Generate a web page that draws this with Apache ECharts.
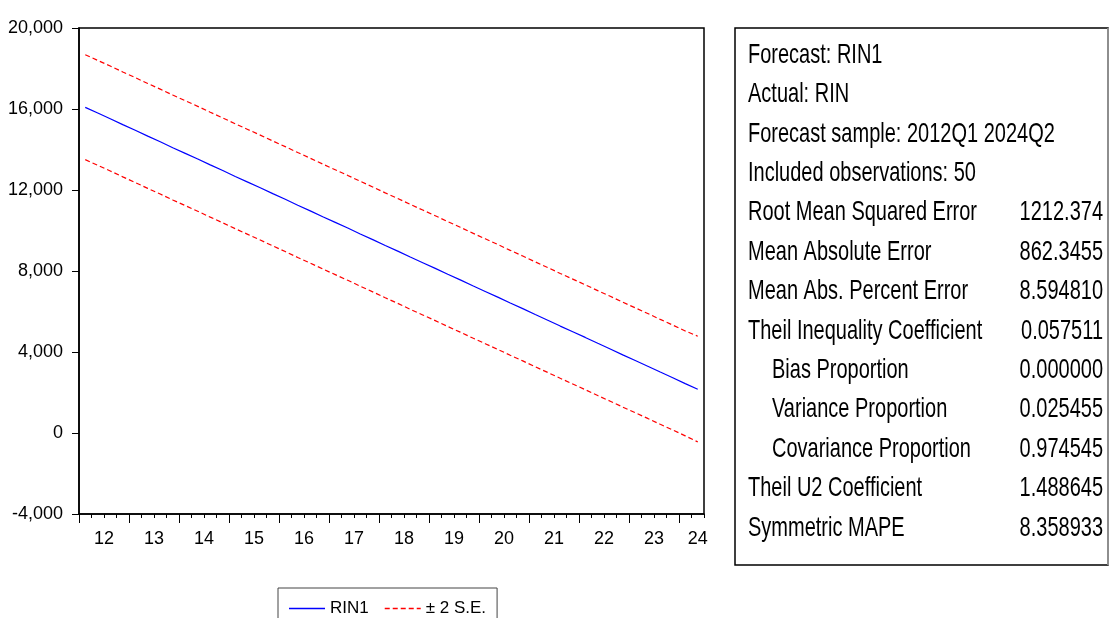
<!DOCTYPE html>
<html>
<head>
<meta charset="utf-8">
<script src="https://cdn.jsdelivr.net/npm/echarts@6/dist/echarts.min.js"></script>
<style>
html,body{margin:0;padding:0;background:#fff;}
#chart{width:1109px;height:618px;}
</style>
</head>
<body>
<div id="chart"></div>
<script>
// ---- data ----
const startYear = 2012;
const nObs = 50;
const yearLabels = ['12','13','14','15','16','17','18','19','20','21','22','23','24'];
const rin1 = [16080,15800,15520,15230,14950,14660,14380,14090,13810,13530,
              13240,12960,12670,12390,12110,11820,11540,11250,10970,10680,
              10400,10120,9830,9550,9260,8980,8690,8410,8130,7840,
              7560,7270,6990,6710,6420,6140,5850,5570,5280,5000,
              4720,4430,4150,3860,3580,3300,3010,2730,2440,2160];
const upperSE = [18680,18400,18120,17830,17550,17260,16980,16690,16410,16130,
                 15840,15560,15270,14990,14710,14420,14140,13850,13570,13280,
                 13000,12720,12430,12150,11860,11580,11290,11010,10730,10440,
                 10160,9870,9590,9310,9020,8740,8450,8170,7880,7600,
                 7320,7030,6750,6460,6180,5900,5610,5330,5040,4780];
const lowerSE = [13500,13220,12940,12650,12370,12080,11800,11510,11230,10950,
                 10660,10380,10090,9810,9530,9240,8960,8670,8390,8100,
                 7820,7540,7250,6970,6680,6400,6110,5830,5550,5260,
                 4980,4690,4410,4130,3840,3560,3270,2990,2700,2420,
                 2140,1850,1570,1280,1000,720,430,150,-140,-440];
const yTicks = [-4000,0,4000,8000,12000,16000,20000];
const infoLines = ['Forecast: RIN1','Actual: RIN','Forecast sample: 2012Q1 2024Q2','Included observations: 50'];
const statNames = ['Root Mean Squared Error','Mean Absolute Error','Mean Abs. Percent Error',
                   'Theil Inequality Coefficient','Bias Proportion','Variance Proportion',
                   'Covariance Proportion','Theil U2 Coefficient','Symmetric MAPE'];
const statValues = ['1212.374','862.3455','8.594810','0.057511','0.000000','0.025455',
                    '0.974545','1.488645','8.358933'];
const statIndent = [false,false,false,false,true,true,true,false,false];

// ---- derived ----
const quarters = [];
for (let i = 0; i < nObs; i++) quarters.push((startYear + Math.floor(i / 4)) + 'Q' + (i % 4 + 1));
const yearBounds = yearLabels.map((_, k) => k * 4);
const labelPos = yearLabels.map((_, k) => Math.min(k * 4 + 2, nObs - 0.5));
const labelMap = {};
labelPos.forEach((p, k) => { labelMap[p] = yearLabels[k]; });

const FONT = '"Liberation Sans", Arial, sans-serif';
const G = {left: 79, top: 28, width: 625, height: 486};

// legend icons (solid and dashed line samples)
const solidIcon = 'path://M0 0H36V1.5H0Z';
const dashedIcon = 'path://M0 0H5V1.5H0Z M8 0H13V1.5H8Z M16 0H21V1.5H16Z M24 0H29V1.5H24Z M32 0H36V1.5H32Z';

// stats panel
const panel = {x: 735, y: 28, w: 373, h: 537, textX: 748, indentX: 772, valX: 1103, row0: 55, rowH: 39.4};
const graphics = [{
  type: 'rect', z: 0,
  shape: {x: panel.x, y: panel.y, width: panel.w, height: panel.h},
  style: {fill: '#fff', stroke: '#000', lineWidth: 1.5}
}, {
  type: 'line', z: 1,
  shape: {x1: panel.x + panel.w, y1: panel.y, x2: panel.x + panel.w, y2: panel.y + panel.h},
  style: {stroke: '#aaa', lineWidth: 1.5}
}];
function addText(txt, x, y, align) {
  graphics.push({
    type: 'text', x: x, y: y, scaleY: 1.4, z: 2,
    style: {text: txt, x: 0, y: 0, fill: '#000', font: '20px ' + FONT, align: align, verticalAlign: 'middle'}
  });
}
infoLines.forEach((t, i) => addText(t, panel.textX, panel.row0 + panel.rowH * i, 'left'));
statNames.forEach((t, j) => {
  const i = j + infoLines.length;
  const yy = panel.row0 + panel.rowH * i;
  addText(t, statIndent[j] ? panel.indentX : panel.textX, yy, 'left');
  addText(statValues[j], panel.valX, yy, 'right');
});

const chart = echarts.init(document.getElementById('chart'));
chart.setOption({
  animation: false,
  backgroundColor: '#fff',
  grid: {left: G.left, top: G.top, width: G.width, height: G.height, show: true,
         borderColor: '#000', borderWidth: 1.5, backgroundColor: 'transparent'},
  legend: {
    left: 278, top: 588, orient: 'horizontal',
    padding: [12, 11, 12, 11], itemGap: 16, itemWidth: 36, itemHeight: 14,
    symbolKeepAspect: true,
    borderColor: '#444', borderWidth: 1,
    textStyle: {fontSize: 17, color: '#000', fontFamily: FONT},
    data: [{name: 'RIN1', icon: solidIcon}, {name: '± 2 S.E.', icon: dashedIcon}]
  },
  xAxis: [{
    type: 'category', data: quarters, boundaryGap: true, position: 'bottom',
    axisLine: {show: true, onZero: false, lineStyle: {color: '#000', width: 1.5}},
    axisTick: {show: true, interval: 0, length: 4, lineStyle: {color: '#000', width: 1}},
    axisLabel: {show: false}, splitLine: {show: false}
  }, {
    type: 'value', min: 0, max: nObs, position: 'bottom',
    axisLine: {show: false, onZero: false},
    axisTick: {show: true, customValues: yearBounds, length: 9, lineStyle: {color: '#000', width: 1}},
    axisLabel: {show: true, customValues: labelPos, margin: 16, fontSize: 18, color: '#000', fontFamily: FONT,
                formatter: v => labelMap[v] || ''},
    splitLine: {show: false}
  }],
  yAxis: {
    type: 'value', min: yTicks[0], max: yTicks[yTicks.length - 1], interval: 4000,
    axisLine: {show: true, onZero: false, lineStyle: {color: '#000', width: 1.5}},
    axisTick: {show: true, length: 7, lineStyle: {color: '#000', width: 1}},
    axisLabel: {margin: 16, fontSize: 18, color: '#000', fontFamily: FONT,
                formatter: v => v.toLocaleString('en-US')},
    splitLine: {show: false}
  },
  series: [{
    name: 'RIN1', type: 'line', xAxisIndex: 0, data: rin1, symbol: 'none',
    lineStyle: {color: '#0000ff', width: 1.2}, itemStyle: {color: '#0000ff'}
  }, {
    name: '± 2 S.E.', type: 'line', xAxisIndex: 0, data: upperSE, symbol: 'none',
    lineStyle: {color: '#ff0000', width: 1.2, type: [5, 3]}, itemStyle: {color: '#ff0000'}
  }, {
    name: '± 2 S.E.', type: 'line', xAxisIndex: 0, data: lowerSE, symbol: 'none',
    lineStyle: {color: '#ff0000', width: 1.2, type: [5, 3]}, itemStyle: {color: '#ff0000'}
  }],
  graphic: graphics
});
</script>
</body>
</html>
